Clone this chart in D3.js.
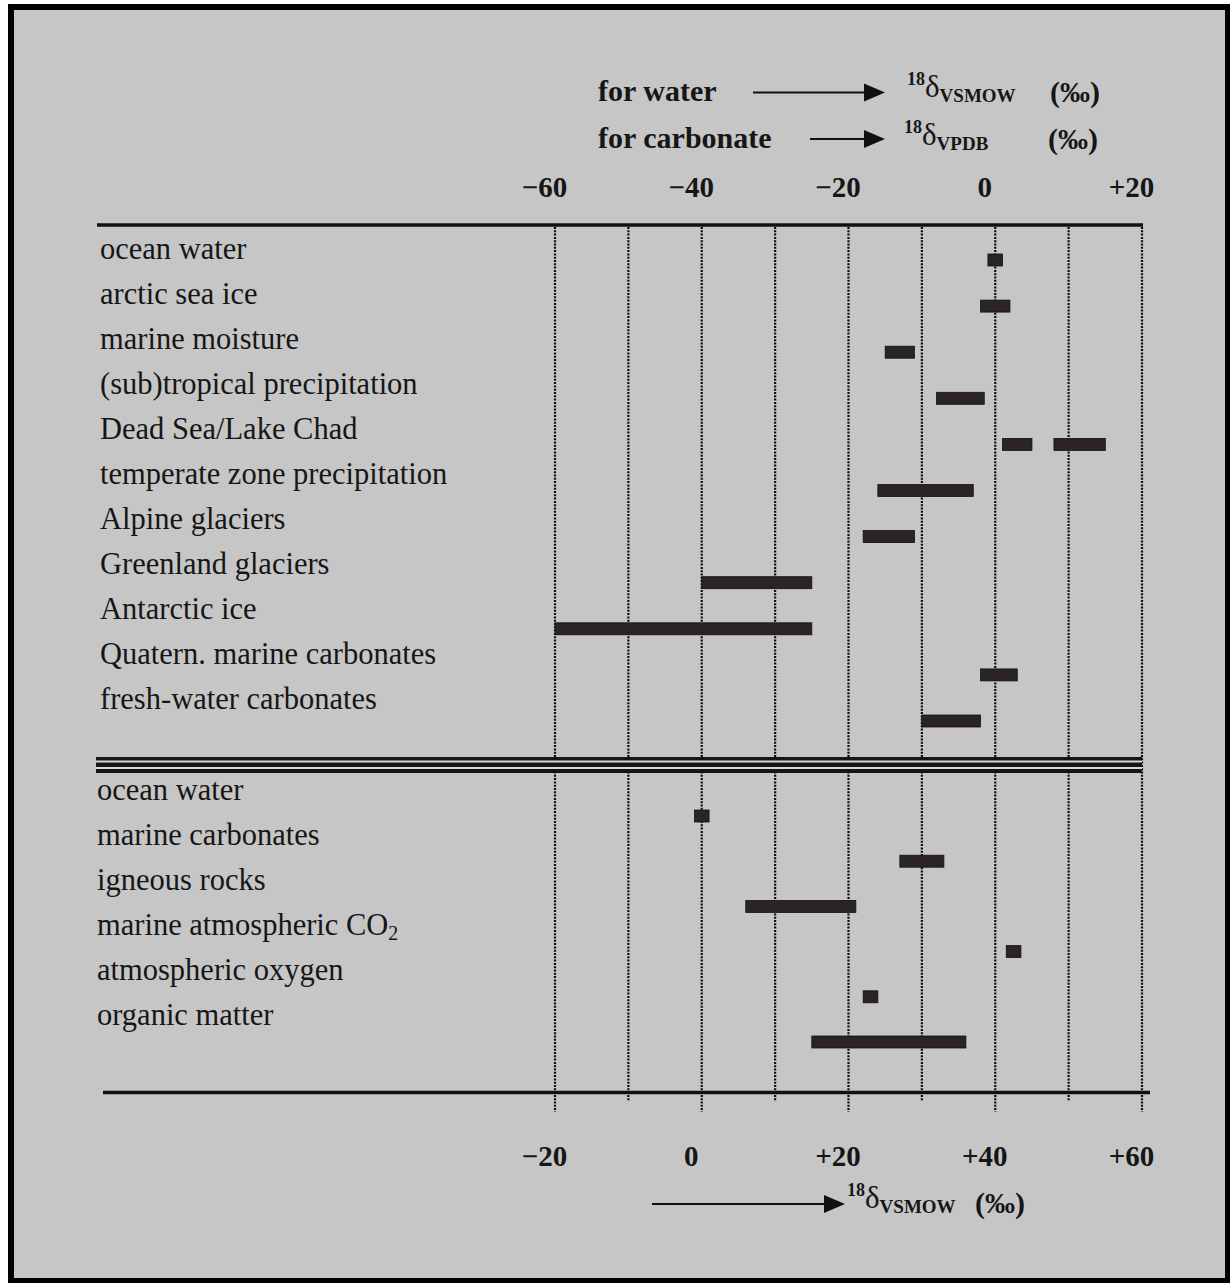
<!DOCTYPE html>
<html>
<head>
<meta charset="utf-8">
<script src="https://cdn.jsdelivr.net/npm/d3@7"></script>
<style>
  body { margin: 0; background: #fff; }
  svg { display: block; }
  text { font-family: "Liberation Serif", "Times New Roman", serif; fill: #161616; }
</style>
</head>
<body>
<div id="vis"></div>
<script>
// upper block: read on the top axis (water vs VSMOW, carbonate vs VPDB)
var upperLabels = ['ocean water', 'arctic sea ice', 'marine moisture', '(sub)tropical precipitation',
    'Dead Sea/Lake Chad', 'temperate zone precipitation', 'Alpine glaciers', 'Greenland glaciers',
    'Antarctic ice', 'Quatern. marine carbonates', 'fresh-water carbonates'];
var upperRanges = [
    ['ocean water', -1, 1],
    ['arctic sea ice', -2, 2],
    ['marine moisture', -15, -11],
    ['(sub)tropical precipitation', -8, -1.5],
    ['Dead Sea/Lake Chad', 1, 5],
    ['Dead Sea/Lake Chad', 8, 15],
    ['temperate zone precipitation', -16, -3],
    ['Alpine glaciers', -18, -11],
    ['Greenland glaciers', -40, -25],
    ['Antarctic ice', -60, -25],
    ['Quatern. marine carbonates', -2, 3],
    ['fresh-water carbonates', -10, -2]
];

// lower block: read on the bottom axis (VSMOW)
var lowerLabels = ['ocean water', 'marine carbonates', 'igneous rocks', 'marine atmospheric CO',
    'atmospheric oxygen', 'organic matter'];
var lowerRanges = [
    ['ocean water', -1, 1],
    ['marine carbonates', 27, 33],
    ['igneous rocks', 6, 21],
    ['marine atmospheric CO', 41.5, 43.5],
    ['atmospheric oxygen', 22, 24],
    ['organic matter', 15, 36]
];

var topTicks = [-60, -40, -20, 0, 20];
var bottomTicks = [-20, 0, 20, 40, 60];
var gridValues = [-20, -10, 0, 10, 20, 30, 40, 50, 60];

var width = 1230, height = 1283;
var barColor = '#2a2427';

function fmtTick(v)
{
    if (v > 0) return '+' + v;
    if (v < 0) return '\u2212' + Math.abs(v);
    return '0';
}

var svg = d3.select('#vis').append('svg')
    .attr('width', width)
    .attr('height', height);

// scanned page frame
svg.append('rect').attr('x', 8).attr('y', 4).attr('width', width - 8).attr('height', height - 4).attr('fill', '#000');
svg.append('rect').attr('x', 14).attr('y', 10).attr('width', 1211).attr('height', 1268).attr('fill', '#c6c6c6');

var xBottom = d3.scaleLinear().domain([-20, 60]).range([555, 1142]);
var xTop = d3.scaleLinear().domain([-60, 20]).range([555, 1142]);

var yUpperBar = d3.scalePoint().domain(upperLabels).range([260, 721]);
var yUpperText = d3.scalePoint().domain(upperLabels).range([259, 709]);
var yLowerBar = d3.scalePoint().domain(lowerLabels).range([816, 1042]);
var yLowerText = d3.scalePoint().domain(lowerLabels).range([800, 1025]);

// dotted grid
svg.append('g').selectAll('line')
    .data(gridValues)
    .enter().append('line')
    .attr('x1', function(d){ return xBottom(d); })
    .attr('x2', function(d){ return xBottom(d); })
    .attr('y1', 227)
    .attr('y2', function(d){ return d % 20 == 0 ? 1112 : 1101; })
    .attr('stroke', '#0d0d0d')
    .attr('stroke-width', 2.2)
    .attr('stroke-dasharray', '2,1.3');

// horizontal rules
svg.append('line').attr('x1', 97).attr('x2', 1143).attr('y1', 225).attr('y2', 225)
    .attr('stroke', '#111').attr('stroke-width', 3.5);
svg.append('line').attr('x1', 103).attr('x2', 1150).attr('y1', 1092.5).attr('y2', 1092.5)
    .attr('stroke', '#111').attr('stroke-width', 3.5);
svg.append('rect').attr('x', 96).attr('y', 757).attr('width', 1046).attr('height', 16).attr('fill', '#151515');
svg.append('line').attr('x1', 96).attr('x2', 1142).attr('y1', 761.5).attr('y2', 761.5)
    .attr('stroke', '#d8d8d8').attr('stroke-width', 2);
svg.append('line').attr('x1', 96).attr('x2', 1142).attr('y1', 768).attr('y2', 768)
    .attr('stroke', '#d8d8d8').attr('stroke-width', 2);

// axes (labels only)
var topAxis = svg.append('g')
    .attr('transform', 'translate(0,197)')
    .call(d3.axisTop(xTop).tickValues(topTicks).tickSize(0).tickPadding(0).tickFormat(fmtTick));
var bottomAxis = svg.append('g')
    .attr('transform', 'translate(0,1166)')
    .call(d3.axisBottom(xBottom).tickValues(bottomTicks).tickSize(0).tickPadding(0).tickFormat(fmtTick));
[topAxis, bottomAxis].forEach(function(a){
    a.select('.domain').remove();
    a.selectAll('text')
        .attr('y', 0).attr('dy', 0).attr('dx', -11)
        .attr('fill', '#161616')
        .style('font-family', '"Liberation Serif", "Times New Roman", serif')
        .style('font-size', '29px')
        .style('font-weight', 'bold');
});

// row labels
svg.append('g').selectAll('text')
    .data(upperLabels)
    .enter().append('text')
    .attr('x', 100)
    .attr('y', function(d){ return yUpperText(d); })
    .style('font-size', '30.5px')
    .text(function(d){ return d; });

var lowerText = svg.append('g').selectAll('text')
    .data(lowerLabels)
    .enter().append('text')
    .attr('x', 97)
    .attr('y', function(d){ return yLowerText(d); })
    .style('font-size', '30.5px')
    .text(function(d){ return d; });
lowerText.filter(function(d){ return d == 'marine atmospheric CO'; })
    .append('tspan').attr('dy', 5).style('font-size', '20px').text('2');

// bars
var barH = 12;
svg.append('g').selectAll('rect')
    .data(upperRanges)
    .enter().append('rect')
    .attr('x', function(d){ return xTop(d[1]); })
    .attr('width', function(d){ return xTop(d[2]) - xTop(d[1]); })
    .attr('y', function(d){ return yUpperBar(d[0]) - barH / 2; })
    .attr('height', barH)
    .attr('fill', barColor)
    .attr('stroke', '#111')
    .attr('stroke-width', 0.8);

svg.append('g').selectAll('rect')
    .data(lowerRanges)
    .enter().append('rect')
    .attr('x', function(d){ return xBottom(d[1]); })
    .attr('width', function(d){ return xBottom(d[2]) - xBottom(d[1]); })
    .attr('y', function(d){ return yLowerBar(d[0]) - barH / 2; })
    .attr('height', barH)
    .attr('fill', barColor)
    .attr('stroke', '#111')
    .attr('stroke-width', 0.8);

// arrows and delta notation
function arrow(x1, x2, y)
{
    svg.append('line').attr('x1', x1).attr('x2', x2 - 18).attr('y1', y).attr('y2', y)
        .attr('stroke', '#111').attr('stroke-width', 2.2);
    svg.append('path')
        .attr('d', 'M' + (x2 - 21) + ',' + (y - 9) + 'L' + x2 + ',' + y + 'L' + (x2 - 21) + ',' + (y + 9) + 'Z')
        .attr('fill', '#111');
}

function deltaLabel(x, y, sub)
{
    var t = svg.append('text').attr('x', x).attr('y', y);
    t.append('tspan').attr('dy', -12).style('font-size', '18px').style('font-weight', 'bold').text('18');
    t.append('tspan').attr('dy', 12).style('font-size', '31px').text('\u03b4');
    t.append('tspan').attr('dy', 5).style('font-size', '19px').style('font-weight', 'bold').text(sub);
}

svg.append('text').attr('x', 598).attr('y', 101)
    .style('font-size', '30px').style('font-weight', 'bold').text('for water');
svg.append('text').attr('x', 598).attr('y', 148)
    .style('font-size', '30px').style('font-weight', 'bold').text('for carbonate');
arrow(753, 885, 92.5);
arrow(810, 885, 139);
deltaLabel(907, 97, 'VSMOW');
deltaLabel(904, 145, 'VPDB');
svg.append('text').attr('x', 1050).attr('y', 102)
    .style('font-size', '30px').style('font-weight', 'bold').text('(\u2030)');
svg.append('text').attr('x', 1048).attr('y', 149)
    .style('font-size', '30px').style('font-weight', 'bold').text('(\u2030)');

arrow(652, 845, 1204);
deltaLabel(847, 1208, 'VSMOW');
svg.append('text').attr('x', 975).attr('y', 1213)
    .style('font-size', '30px').style('font-weight', 'bold').text('(\u2030)');
</script>
</body>
</html>
